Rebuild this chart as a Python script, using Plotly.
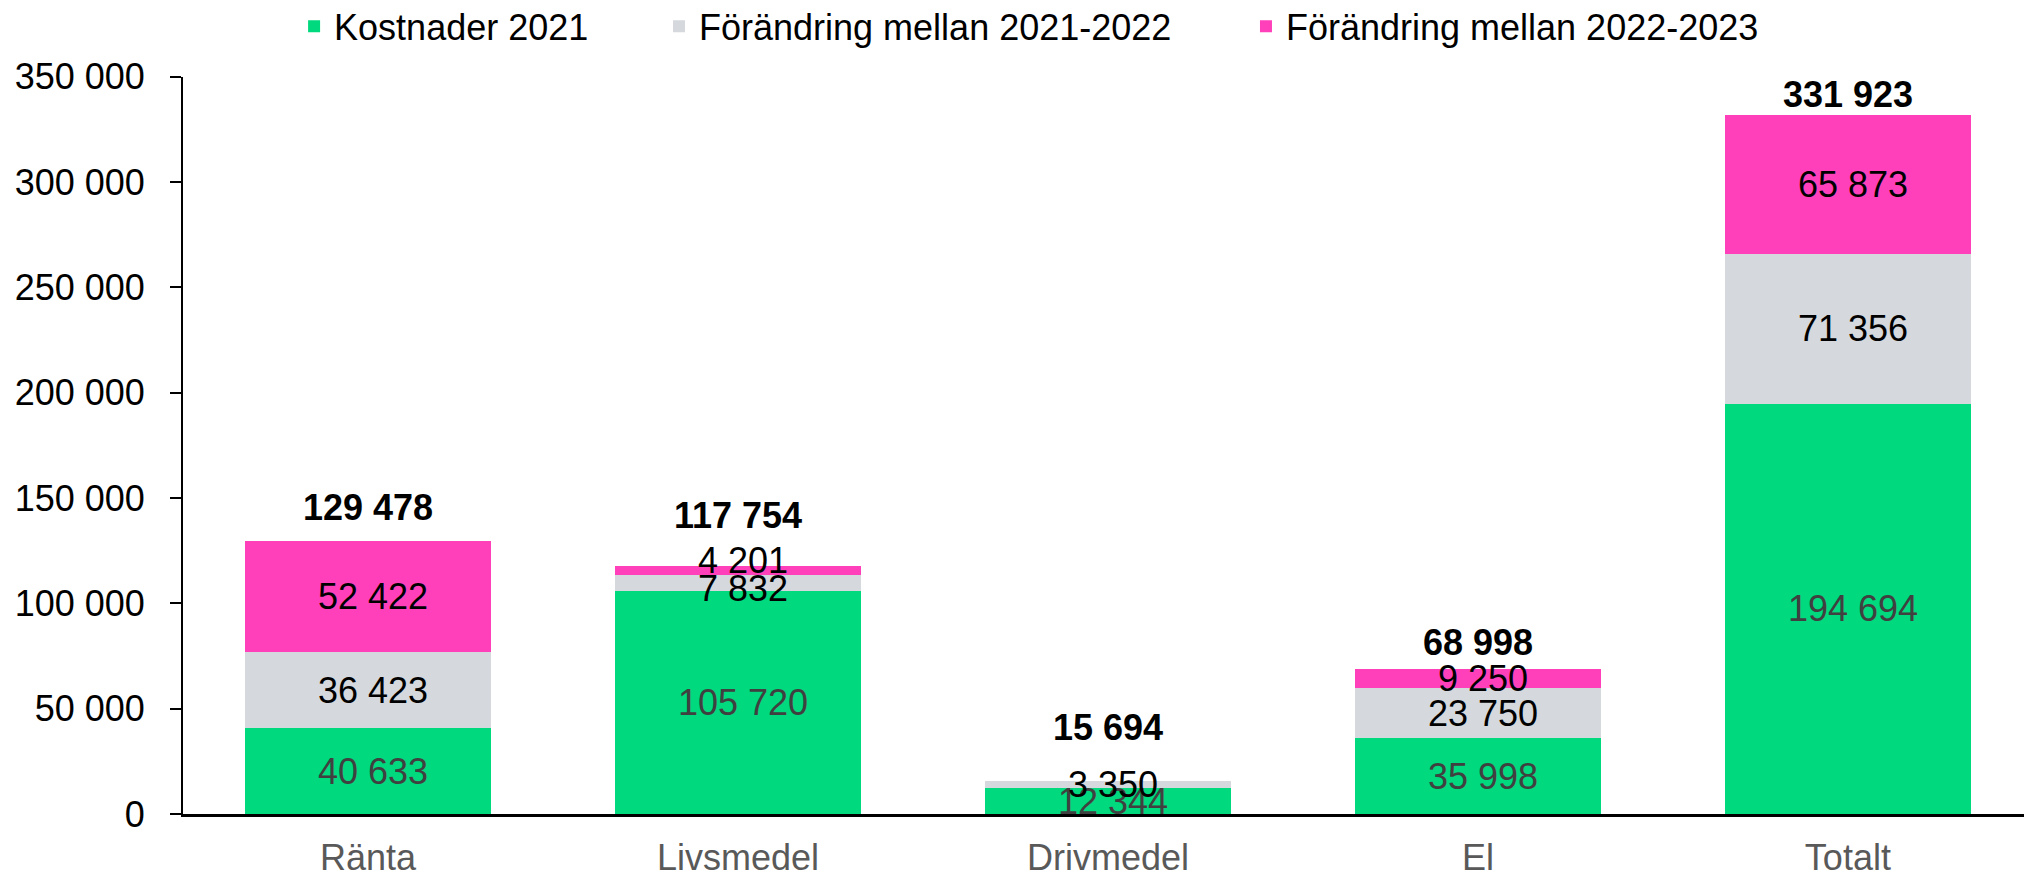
import plotly.graph_objects as go

kategorier = ["Ränta", "Livsmedel", "Drivmedel", "El", "Totalt"]
kostnader_2021 = [40633, 105720, 12344, 35998, 194694]
forandring_21_22 = [36423, 7832, 3350, 23750, 71356]
forandring_22_23 = [52422, 4201, 0, 9250, 65873]
totaler = [129478, 117754, 15694, 68998, 331923]
y_ticks = [0, 50000, 100000, 150000, 200000, 250000, 300000, 350000]

FONT = "Liberation Sans, Arial, sans-serif"

# förskjutning (px) av etiketter, som i originalet
summa_yshift = [11, 28, 31, 4, -2]
etikett_yshift = {("Livsmedel", 1): -5, ("Livsmedel", 2): 10}


def fmt(v):
    return f"{v:,}".replace(",", " ") if v else ""


serier = [
    ("Kostnader 2021", kostnader_2021, "#00D97E", "#404040", "legend"),
    ("Förändring mellan 2021-2022", forandring_21_22, "#D5D8DC", "black", "legend2"),
    ("Förändring mellan 2022-2023", forandring_22_23, "#FF40BA", "black", "legend3"),
]

fig = go.Figure()
bas = [0] * len(kategorier)
for i, (namn, vals, farg, textfarg, leg) in enumerate(serier):
    fig.add_trace(go.Bar(
        x=kategorier, y=vals, name=namn,
        marker=dict(color=farg, line=dict(width=0)),
        legend=leg, showlegend=True,
    ))
    # värdeetiketter mitt i varje segment
    for j, (k, v) in enumerate(zip(kategorier, vals)):
        if v:
            fig.add_annotation(
                x=k, y=bas[j] + v / 2, text=fmt(v), showarrow=False,
                yanchor="middle", xshift=5, yshift=etikett_yshift.get((k, i), 0),
                font=dict(family=FONT, size=36, color=textfarg),
            )
        bas[j] += v

# summor ovanför staplarna
for k, t, ys in zip(kategorier, totaler, summa_yshift):
    fig.add_annotation(
        x=k, y=t, text=f"<b>{fmt(t)}</b>", showarrow=False,
        yanchor="bottom", yshift=ys,
        font=dict(family=FONT, size=36, color="black"),
    )

leg_common = dict(orientation="h", xref="container", yref="container",
                  yanchor="middle", y=0.970, xanchor="left",
                  font=dict(family=FONT, size=36, color="black"),
                  bgcolor="rgba(0,0,0,0)")

fig.update_layout(
    width=2024, height=878, autosize=False,
    barmode="stack", bargap=0.335,
    separators=", ",
    showlegend=True,
    plot_bgcolor="white", paper_bgcolor="white",
    margin=dict(l=183, r=0, t=75, b=62),
    font=dict(family=FONT, size=36, color="black"),
    legend=dict(x=0.1453, **leg_common),
    legend2=dict(x=0.3256, **leg_common),
    legend3=dict(x=0.6156, **leg_common),
    xaxis=dict(
        range=[-0.5, 4.476], showline=True, linecolor="black", linewidth=2.5,
        ticks="", showgrid=False, ticklabelstandoff=10,
        tickfont=dict(family=FONT, size=36, color="#595959"),
    ),
    yaxis=dict(
        range=[0, 350000], tickvals=y_ticks, tickformat=",",
        showline=True, linecolor="black", linewidth=2,
        ticks="outside", ticklen=11, tickwidth=2, tickcolor="black",
        showgrid=False, zeroline=False, ticklabelstandoff=18,
        tickfont=dict(family=FONT, size=36, color="black"),
    ),
)

fig.write_html("out.html", config={"displayModeBar": False},
               post_script="document.body.style.margin='0';")
